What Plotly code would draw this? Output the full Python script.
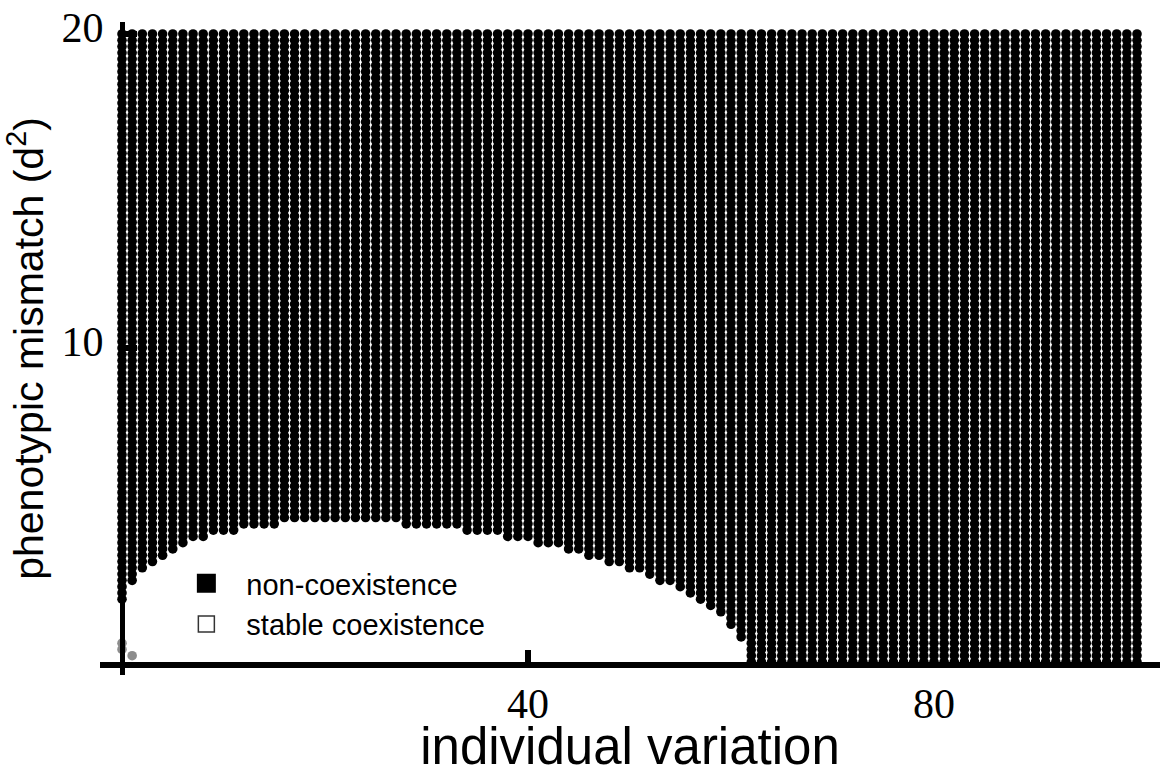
import plotly.graph_objects as go

# Grid of the parameter scan
individual_variation = list(range(0, 101))                 # x: 0..100
mismatch_levels = [round(0.2 * i, 1) for i in range(101)]  # y: 0..20 step 0.2

# Lowest mismatch (d^2) at which non-coexistence occurs, per x column
non_coexistence_threshold = [
    2.0, 2.6, 3.0, 3.2, 3.4, 3.6, 3.8, 4.0, 4.0, 4.2,
    4.2, 4.2, 4.4, 4.4, 4.4, 4.4, 4.6, 4.6, 4.6, 4.6,
    4.6, 4.6, 4.6, 4.6, 4.6, 4.6, 4.6, 4.6, 4.4, 4.4,
    4.4, 4.4, 4.4, 4.4, 4.2, 4.2, 4.2, 4.2, 4.0, 4.0,
    4.0, 3.8, 3.8, 3.8, 3.6, 3.6, 3.4, 3.4, 3.2, 3.2,
    3.0, 3.0, 2.8, 2.6, 2.6, 2.4, 2.2, 2.0, 1.8, 1.6,
    1.2, 0.8, 0.0, 0.0, 0.0, 0.0, 0.0, 0.0, 0.0, 0.0,
    0.0, 0.0, 0.0, 0.0, 0.0, 0.0, 0.0, 0.0, 0.0, 0.0,
    0.0, 0.0, 0.0, 0.0, 0.0, 0.0, 0.0, 0.0, 0.0, 0.0,
    0.0, 0.0, 0.0, 0.0, 0.0, 0.0, 0.0, 0.0, 0.0, 0.0,
    0.0,
]

# Gray points near the origin
gray_x = [0, 0, 1]
gray_y = [0.4, 0.6, 0.2]

legend_labels = ["non-coexistence", "stable coexistence"]
x_tick_values = [40, 80]
y_tick_values = [10, 20]

black_x, black_y = [], []
for xi, thr in zip(individual_variation, non_coexistence_threshold):
    for yv in mismatch_levels:
        if yv >= thr - 1e-9:
            black_x.append(xi)
            black_y.append(yv)

fig = go.Figure()
fig.add_trace(go.Scatter(
    x=black_x, y=black_y, mode="markers",
    marker=dict(symbol="circle", size=9.6, color="black", line=dict(width=0)),
    showlegend=False, hoverinfo="skip",
))
fig.add_trace(go.Scatter(
    x=gray_x, y=gray_y, mode="markers",
    marker=dict(symbol="circle", size=9.6, color="#8c8c8c", line=dict(width=0)),
    showlegend=False, hoverinfo="skip",
))
fig.add_trace(go.Scatter(
    x=[None], y=[None], mode="markers", name=legend_labels[0], legendgroup="a",
    marker=dict(symbol="square", size=16, color="black", line=dict(width=3, color="black")),
))
fig.add_trace(go.Scatter(
    x=[None], y=[None], mode="markers", name=legend_labels[1], legendgroup="b",
    marker=dict(symbol="square", size=16, color="white", line=dict(width=1.5, color="#333333")),
))

W, H = 1167, 775
ml, mr, mt, mb = 100, 7, 22, 100
pw, ph = W - ml - mr, H - mt - mb
x0_px, x_scale = 122 - ml, 10.15   # px offset of x=0 inside plot, px per unit
y0_px, y_scale = 13, 31.4          # px of y=0 above plot bottom, px per unit
x_range = [-x0_px / x_scale, (pw - x0_px) / x_scale]
y_range = [-y0_px / y_scale, (ph - y0_px) / y_scale]

serif = "Liberation Serif, Times New Roman, serif"
sans = "Liberation Sans, Arial, Helvetica, sans-serif"

fig.update_layout(
    width=W, height=H,
    margin=dict(l=ml, r=mr, t=mt, b=mb, pad=0),
    paper_bgcolor="white", plot_bgcolor="white",
    showlegend=True,
    legend=dict(
        x=0.0626, y=0.1793, xanchor="left", yanchor="top",
        font=dict(family=sans, size=29, color="black"),
        itemwidth=70, tracegroupgap=0, traceorder="grouped",
        bgcolor="rgba(0,0,0,0)", borderwidth=0,
    ),
    xaxis=dict(
        range=x_range, anchor="free", position=(y0_px - 3) / ph,
        showline=True, linewidth=6, linecolor="black",
        ticks="inside", ticklen=12, tickwidth=6, tickcolor="black",
        tickvals=x_tick_values, ticktext=[str(v) for v in x_tick_values],
        tickfont=dict(family=serif, size=42, color="black"),
        showgrid=False, zeroline=False, automargin=False,
        title=dict(text="individual variation", font=dict(family=sans, size=51, color="black"), standoff=15),
    ),
    yaxis=dict(
        range=y_range, anchor="free", position=x0_px / pw,
        showline=True, linewidth=5, linecolor="black",
        ticks="inside", ticklen=12, tickwidth=6, tickcolor="black",
        tickvals=y_tick_values, ticktext=[str(v) for v in y_tick_values],
        tickfont=dict(family=serif, size=42, color="black"),
        ticklabelstandoff=8, ticklabelshift=-7,
        showgrid=False, zeroline=False, automargin=False,
        title=dict(text="phenotypic mismatch (d<sup>2</sup>)", font=dict(family=sans, size=41, color="black"), standoff=10),
    ),
)

fig.write_html("out.html")
